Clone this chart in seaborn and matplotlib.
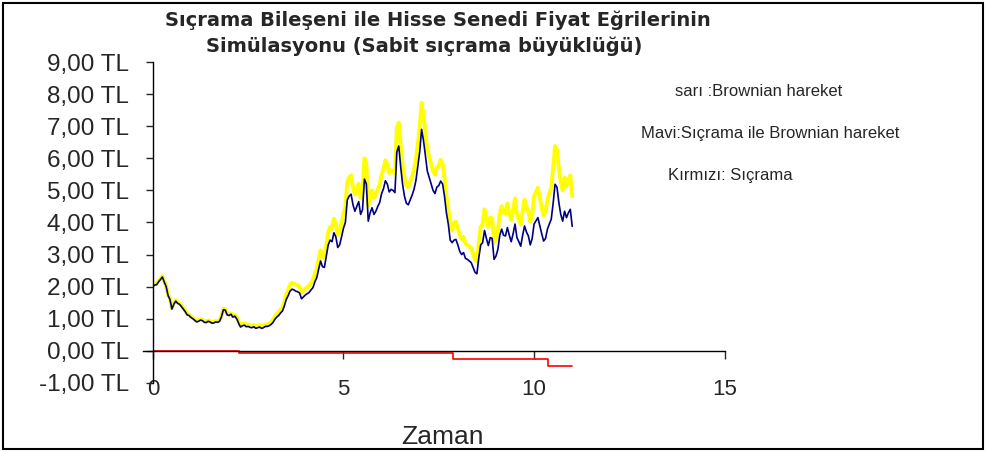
import numpy as np
import pandas as pd
import seaborn as sns
import matplotlib.pyplot as plt
from matplotlib.ticker import FuncFormatter
from matplotlib.patches import Rectangle

# === data (one value every 0.05 time units) ===
sari_brownian = [
    2.03, 2.08, 2.09, 2.18, 2.25, 2.33, 2.17, 2.03, 1.75, 1.63,
    1.33, 1.48, 1.58, 1.51, 1.48, 1.41, 1.33, 1.25, 1.15, 1.13,
    1.07, 1.03, 0.98, 0.93, 0.95, 0.99, 0.97, 0.92, 0.91, 0.95,
    0.93, 0.89, 0.90, 0.93, 0.92, 0.95, 1.09, 1.31, 1.30, 1.15,
    1.13, 1.17, 1.08, 1.12, 1.05, 0.92, 0.80, 0.84, 0.86, 0.81,
    0.82, 0.79, 0.78, 0.81, 0.76, 0.78, 0.80, 0.76, 0.78, 0.82,
    0.82, 0.85, 0.89, 0.96, 1.07, 1.15, 1.20, 1.29, 1.36, 1.54,
    1.76, 1.90, 2.06, 2.12, 2.10, 2.06, 2.04, 2.00, 1.80, 1.87,
    1.94, 1.98, 2.03, 2.12, 2.20, 2.40, 2.55, 2.85, 3.13, 2.93,
    2.91, 3.30, 3.69, 3.86, 3.80, 4.12, 3.98, 3.61, 3.70, 3.98,
    4.28, 4.48, 5.27, 5.40, 5.47, 5.10, 4.87, 5.04, 5.21, 4.76,
    4.93, 6.00, 5.82, 4.52, 4.82, 5.00, 4.76, 4.87, 5.04, 5.17,
    5.49, 5.66, 5.94, 5.82, 5.54, 5.63, 5.60, 5.52, 6.94, 7.11,
    6.44, 5.82, 5.40, 5.15, 5.10, 5.26, 5.43, 5.63, 5.94, 6.45,
    6.94, 7.73, 7.34, 6.80, 6.27, 6.05, 5.82, 5.60, 5.49, 5.71,
    5.77, 5.95, 5.82, 5.40, 4.82, 4.45, 3.90, 3.75, 4.00, 4.02,
    3.82, 3.60, 3.48, 3.55, 3.34, 3.30, 3.26, 3.20, 3.02, 2.85,
    2.78, 3.38, 3.86, 3.95, 4.41, 4.12, 3.86, 4.16, 4.13, 3.37,
    3.50, 3.75, 4.28, 4.51, 4.30, 4.27, 4.59, 4.31, 4.08, 4.38,
    4.75, 4.25, 4.10, 3.94, 4.35, 4.71, 4.49, 4.35, 4.02, 4.26,
    4.82, 4.95, 5.08, 4.78, 4.48, 4.22, 4.33, 4.70, 4.90, 5.08,
    5.70, 6.38, 6.28, 5.70, 5.25, 5.00, 5.40, 5.15, 5.33, 5.47,
    4.82,
]

mavi_sicrama_brownian = [
    2.00, 2.05, 2.06, 2.15, 2.22, 2.30, 2.14, 2.00, 1.72, 1.60,
    1.30, 1.45, 1.55, 1.48, 1.45, 1.38, 1.30, 1.22, 1.12, 1.10,
    1.04, 1.00, 0.95, 0.90, 0.92, 0.96, 0.94, 0.89, 0.88, 0.92,
    0.90, 0.86, 0.87, 0.90, 0.89, 0.92, 1.06, 1.28, 1.27, 1.12,
    1.10, 1.14, 1.05, 1.08, 1.00, 0.86, 0.74, 0.78, 0.80, 0.75,
    0.76, 0.73, 0.72, 0.75, 0.70, 0.72, 0.74, 0.70, 0.72, 0.76,
    0.76, 0.78, 0.82, 0.88, 0.98, 1.05, 1.10, 1.18, 1.24, 1.40,
    1.60, 1.72, 1.86, 1.92, 1.90, 1.86, 1.84, 1.80, 1.62, 1.68,
    1.74, 1.78, 1.82, 1.90, 1.97, 2.15, 2.28, 2.55, 2.80, 2.62,
    2.60, 2.95, 3.30, 3.45, 3.40, 3.68, 3.55, 3.22, 3.30, 3.55,
    3.82, 4.00, 4.70, 4.82, 4.88, 4.55, 4.35, 4.50, 4.65, 4.25,
    4.40, 5.35, 5.20, 4.04, 4.30, 4.46, 4.25, 4.35, 4.50, 4.62,
    4.90, 5.05, 5.30, 5.20, 4.95, 5.03, 5.00, 4.93, 6.20, 6.38,
    5.75, 5.20, 4.82, 4.60, 4.55, 4.70, 4.85, 5.03, 5.30, 5.76,
    6.20, 6.90, 6.55, 6.07, 5.60, 5.40, 5.20, 5.00, 4.90, 5.10,
    5.15, 5.29, 5.20, 4.82, 4.30, 3.95, 3.45, 3.37, 3.45, 3.47,
    3.30, 3.10, 3.00, 3.06, 2.88, 2.85, 2.80, 2.75, 2.60, 2.45,
    2.40, 2.90, 3.30, 3.37, 3.75, 3.50, 3.28, 3.53, 3.50, 2.85,
    2.95, 3.16, 3.60, 3.79, 3.60, 3.58, 3.84, 3.60, 3.40, 3.65,
    3.95, 3.53, 3.40, 3.26, 3.60, 3.89, 3.70, 3.58, 3.30, 3.50,
    3.95, 4.05, 4.15, 3.90, 3.65, 3.42, 3.50, 3.79, 3.95, 4.10,
    4.60, 5.19, 5.10, 4.62, 4.25, 4.04, 4.35, 4.15, 4.30, 4.41,
    3.88,
]

zaman = np.round(np.arange(len(mavi_sicrama_brownian)) * 0.05, 2)

sicrama_zaman = [0.0, 2.09, 2.26, 7.88, 10.36, 11.0]
sicrama = [0.0, -0.02, -0.07, -0.25, -0.46, -0.46]

df = pd.DataFrame({"Zaman": zaman, "sari": sari_brownian, "mavi": mavi_sicrama_brownian})
df_j = pd.DataFrame({"Zaman": sicrama_zaman, "sicrama": sicrama})

# === plot ===
sns.set_style("white")
plt.rcParams["font.family"] = ["Liberation Sans", "DejaVu Sans"]

fig = plt.figure(figsize=(9.86, 4.51), dpi=100)
ax = fig.add_axes([0.155, 0.151, 0.58, 0.7115])

sns.lineplot(data=df, x="Zaman", y="sari", color="#ffff00", linewidth=2.8, ax=ax)
sns.lineplot(data=df, x="Zaman", y="mavi", color="#000080", linewidth=1.2, ax=ax)
sns.lineplot(data=df_j, x="Zaman", y="sicrama", color="#ff0000", linewidth=1.2,
             drawstyle="steps-post", ax=ax)

ax.set_xlim(0, 15)
ax.set_ylim(-1, 9)
ax.set_xticks([0, 5, 10, 15])
ax.set_yticks(range(-1, 10))
ax.yaxis.set_major_formatter(FuncFormatter(lambda v, p: f"{v:.2f} TL".replace(".", ",")))

for s in ["top", "right"]:
    ax.spines[s].set_visible(False)
ax.spines["bottom"].set_position(("data", 0))
ax.spines["bottom"].set_bounds(-0.25, 15)
for s in ["left", "bottom"]:
    ax.spines[s].set_color("black")
    ax.spines[s].set_linewidth(1.0)

ax.tick_params(axis="y", direction="out", length=5, width=1, labelsize=17.5, pad=12, left=True)
ax.tick_params(axis="x", direction="out", length=6, width=1, labelsize=16, pad=14, bottom=True)
ax.set_xlabel("Zaman", fontsize=19)
ax.set_ylabel("")
ax.xaxis.set_label_coords(0.507, -0.13)

fig.text(0.444, 0.955, "Sıçrama Bileşeni ile Hisse Senedi Fiyat Eğrilerinin",
         ha="center", va="center", fontsize=14, fontweight="bold", family="DejaVu Sans")
fig.text(0.430, 0.898, "Simülasyonu (Sabit sıçrama büyüklüğü)",
         ha="center", va="center", fontsize=14, fontweight="bold", family="DejaVu Sans")

fig.text(0.769, 0.797, "sarı :Brownian hareket", ha="center", va="center", fontsize=12)
fig.text(0.781, 0.705, "Mavi:Sıçrama ile Brownian hareket", ha="center", va="center", fontsize=12)
fig.text(0.741, 0.610, "Kırmızı: Sıçrama", ha="center", va="center", fontsize=12)

fig.add_artist(Rectangle((0.003, 0.004), 0.994, 0.99, transform=fig.transFigure,
                         fill=False, edgecolor="black", linewidth=1.5))

fig.savefig("out.png", dpi=100)
